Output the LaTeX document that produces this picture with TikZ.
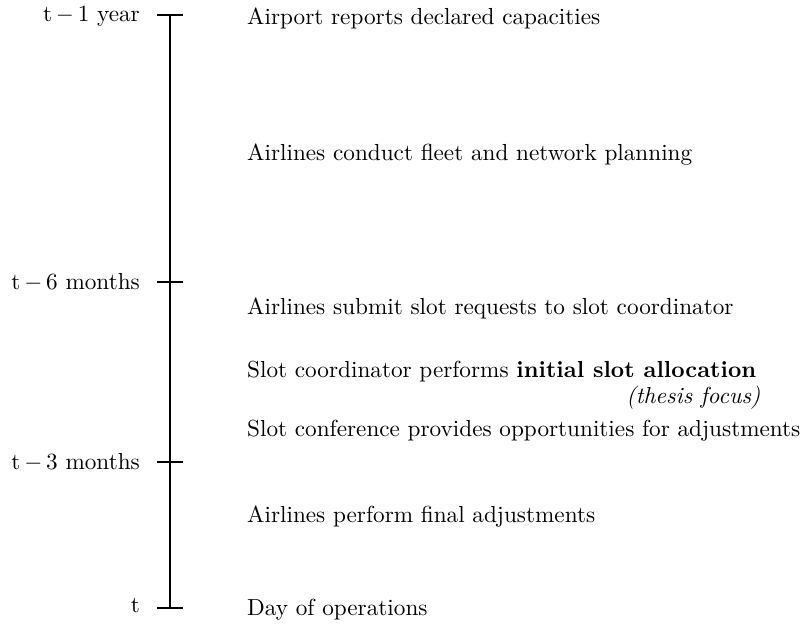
\documentclass[tikz,border=0pt]{standalone}
\usepackage{tikz}
\usetikzlibrary{positioning}

\begin{document}
\begin{tikzpicture}[
    x=0.431pt, y=-0.431pt,
    ev/.style={anchor=west},
    tl/.style={anchor=east},
    tk/.style={thick}
  ]
    \useasboundingbox (0,0) rectangle (801,626);
    % time axis
    \coordinate (t0) at (170,15);
    \coordinate (t1) at (170,282);
    \coordinate (t2) at (170,462);
    \coordinate (t3) at (170,608);
    \draw[tk] (t0) -- (t3);
    \foreach \c in {t0,t1,t2,t3}
      \draw[tk] ([xshift=-5.6pt]\c) -- ([xshift=5.6pt]\c);
    \node[tl] (l0) at (148,16) {t\,$-$\,1 year};
    \node[tl] (l1) at (148,282) {t\,$-$\,6 months};
    \node[tl] (l2) at (148,462) {t\,$-$\,3 months};
    \node[tl] (l3) at (148,605) {t};
    % events
    \node[ev] (e1) at (239,18) {Airport reports declared capacities};
    \node[ev] (e2) at (239,155) {Airlines conduct fleet and network planning};
    \node[ev] (e3) at (239,308) {Airlines submit slot requests to slot coordinator};
    \node[ev] (e4) at (239,372) {Slot coordinator performs \textbf{initial slot allocation}};
    \node[anchor=east, inner sep=0pt] (f) at ([xshift=-1.5pt,yshift=-11pt]e4.east) {\textit{(thesis focus)}};
    \node[ev] (e5) at (239,431) {Slot conference provides opportunities for adjustments};
    \node[ev] (e6) at (239,517) {Airlines perform final adjustments};
    \node[ev] (e7) at (239,610) {Day of operations};
  \end{tikzpicture}
\end{document}
